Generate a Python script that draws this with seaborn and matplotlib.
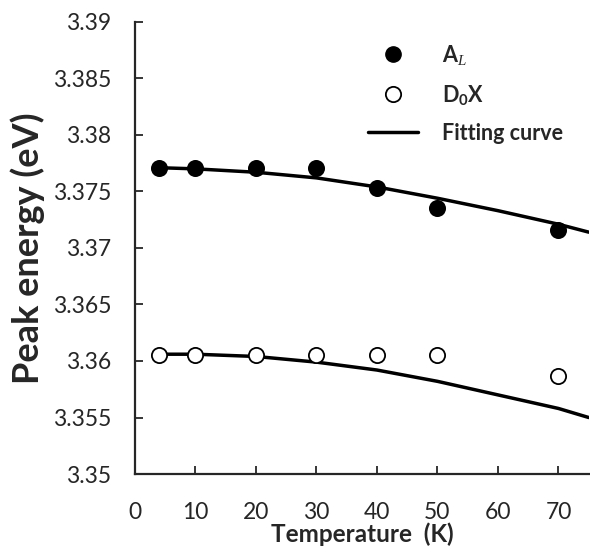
import pandas as pd
import numpy as np
import matplotlib
matplotlib.use("Agg")
import matplotlib.pyplot as plt
import seaborn as sns
from matplotlib.lines import Line2D

# measured peak positions
temp = [4, 10, 20, 30, 40, 50, 70]
a_l = [3.3771, 3.3771, 3.3771, 3.3771, 3.3753, 3.3735, 3.3716]
d0x = [3.3605, 3.3605, 3.3605, 3.3605, 3.3605, 3.3605, 3.3587]

# fitting curves
fit_t = [4, 10, 20, 30, 40, 50, 60, 70, 75]
fit_a = [3.3771, 3.3770, 3.3767, 3.3762, 3.3754, 3.3744, 3.3733, 3.3721, 3.3714]
fit_d = [3.3606, 3.3606, 3.3604, 3.3599, 3.3592, 3.3582, 3.3570, 3.3558, 3.3550]

pts = pd.DataFrame({"T": temp * 2, "E": a_l + d0x,
                    "peak": ["A"] * len(temp) + ["D"] * len(temp)})
fits = pd.DataFrame({"T": fit_t * 2, "E": fit_a + fit_d,
                     "peak": ["A"] * len(fit_t) + ["D"] * len(fit_t)})

sns.set_style("ticks")
plt.rcParams["font.family"] = ["Lato", "DejaVu Sans"]
plt.rcParams["mathtext.fontset"] = "custom"
plt.rcParams["mathtext.bf"] = "Lato:bold"
plt.rcParams["mathtext.it"] = "Liberation Serif:italic"
plt.rcParams["mathtext.rm"] = "Lato"

fig = plt.figure(figsize=(5.9, 5.48), dpi=100)
ax = fig.add_axes([0.2288, 0.135, 0.769, 0.825])

sns.lineplot(data=fits, x="T", y="E", units="peak", estimator=None,
             color="black", lw=2.5, ax=ax, legend=False)
sns.scatterplot(data=pts[pts.peak == "A"], x="T", y="E", color="black",
                s=120, edgecolor="black", linewidth=1.3, ax=ax, legend=False, zorder=3)
sns.scatterplot(data=pts[pts.peak == "D"], x="T", y="E", color="white",
                s=120, edgecolor="black", linewidth=1.3, ax=ax, legend=False, zorder=3)

ax.set_xlim(0, 75)
ax.set_ylim(3.35, 3.39)
yt = np.round(np.arange(3.35, 3.3901, 0.005), 3)
ax.set_xticks(range(0, 80, 10))
ax.set_yticks(yt)
ax.set_yticklabels([f"{v:g}" for v in yt])
ax.tick_params(direction="in", length=6, width=1.3, labelsize=16.5)
ax.tick_params(axis="x", pad=20)
ax.tick_params(axis="y", pad=17)
for s in ["top", "right"]:
    ax.spines[s].set_visible(False)
for s in ["left", "bottom"]:
    ax.spines[s].set_linewidth(1.6)

ax.set_xlabel("Temperature  (K)", fontsize=17.5, fontweight="bold")
ax.xaxis.set_label_coords(0.5, -0.133)
ax.xaxis.label.set_va("center")
ax.set_ylabel("Peak energy (eV)", fontsize=26, fontweight="bold", labelpad=6)

handles = [
    Line2D([], [], ls="", marker="o", ms=11, mfc="black", mec="black"),
    Line2D([], [], ls="", marker="o", ms=11, mfc="white", mec="black", mew=1.3),
    Line2D([], [], color="black", lw=2.5),
]
labels = [r"$\mathbf{A}_{\mathit{L}}$", r"D$_\mathbf{0}$X", "Fitting curve"]
ax.legend(handles, labels, loc="upper right", bbox_to_anchor=(0.985, 0.997),
          frameon=False, prop={"weight": "bold", "size": 15.5},
          handlelength=2.3, labelspacing=0.75, handletextpad=1.1)

fig.savefig("out.png", dpi=100)
